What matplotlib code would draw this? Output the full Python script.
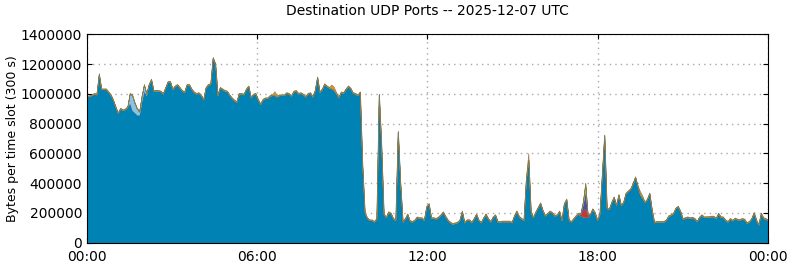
import numpy as np
import matplotlib
matplotlib.use('Agg')
import matplotlib.pyplot as plt

# bytes per 5-minute slot, in thousands, 12 slots per hour
main = [
    980, 985, 990, 1000, 995, 1130, 1030, 1030, 1030, 1010, 990, 955,
    910, 870, 900, 890, 895, 910, 940, 890, 875, 860, 860, 950,
    1020, 990, 1060, 1095, 1020, 1020, 1020, 1015, 1000, 1040, 1080, 1080,
    1030, 1050, 1060, 1040, 1020, 1010, 1060, 1060, 1030, 1010, 1000, 1005,
    990, 960, 1040, 1060, 1065, 1240, 1200, 990, 1040, 1030, 1020, 1015,
    990, 970, 955, 945, 1000, 1000, 995, 1030, 1050, 975, 995, 1000,
    960, 930, 960, 970, 970, 985, 990, 990, 980, 990, 990, 990,
    1005, 1000, 985, 1015, 1020, 1000, 1005, 995, 980, 1000, 1005, 980,
    1020, 1110, 1010, 1030, 1065, 1050, 1040, 1035, 1025, 1000, 975, 1010,
    1005, 1030, 1050, 1035, 1005, 1000, 990, 1010, 520, 200, 165, 150,
    150, 140, 160, 995, 650, 190, 170, 205, 195, 160, 150, 745,
    400, 140, 160, 190, 145, 140, 150, 170, 165, 165, 150, 240,
    260, 165, 165, 160, 170, 185, 205, 175, 150, 135, 125, 130,
    135, 150, 210, 135, 150, 152, 135, 160, 190, 150, 135, 165,
    190, 160, 140, 170, 185, 140, 140, 142, 142, 142, 142, 135,
    180, 210, 175, 160, 150, 420, 555, 200, 170, 205, 235, 265,
    215, 180, 195, 210, 200, 180, 185, 210, 150, 260, 290, 150,
    140, 160, 180, 195, 180, 175, 172, 172, 190, 225, 200, 150,
    190, 450, 720, 230, 225, 270, 305, 250, 320, 250, 270, 330,
    345, 360, 395, 440, 380, 325, 300, 270, 290, 330, 220, 135,
    140, 140, 140, 140, 150, 178, 185, 195, 230, 242, 210, 160,
    165, 170, 165, 168, 160, 142, 170, 185, 170, 172, 172, 175,
    175, 162, 195, 172, 170, 150, 140, 160, 148, 162, 155, 152,
    160, 155, 132, 140, 160, 200, 150, 120, 195, 165, 158, 150,
]

orange = [
    4, 4, 4, 4, 4, 6, 4, 4, 4, 4, 4, 4,
    4, 4, 4, 4, 4, 4, 4, 4, 4, 4, 4, 4,
    4, 4, 4, 4, 4, 4, 4, 4, 4, 4, 4, 4,
    4, 4, 4, 4, 4, 4, 4, 4, 4, 4, 4, 4,
    4, 4, 4, 4, 4, 6, 4, 4, 4, 4, 4, 4,
    4, 4, 4, 4, 4, 4, 4, 4, 4, 4, 4, 4,
    4, 4, 4, 4, 4, 4, 4, 25, 8, 4, 4, 4,
    4, 4, 4, 4, 4, 4, 4, 4, 4, 4, 4, 4,
    4, 4, 4, 4, 4, 4, 4, 25, 20, 8, 4, 4,
    4, 4, 4, 4, 4, 4, 4, 4, 4, 4, 4, 4,
    4, 4, 4, 4, 4, 4, 4, 4, 4, 4, 4, 4,
    4, 4, 4, 4, 4, 4, 4, 4, 4, 4, 4, 4,
    4, 4, 4, 4, 4, 4, 4, 4, 4, 4, 4, 4,
    4, 4, 4, 4, 4, 4, 4, 4, 4, 4, 4, 4,
    4, 4, 4, 4, 4, 4, 4, 4, 4, 4, 4, 4,
    4, 4, 4, 4, 4, 20, 45, 8, 4, 4, 4, 4,
    4, 4, 4, 4, 4, 4, 4, 4, 4, 4, 4, 4,
    4, 4, 4, 4, 4, 4, 4, 4, 4, 4, 4, 4,
    4, 4, 4, 4, 4, 4, 4, 4, 4, 4, 4, 4,
    4, 4, 4, 4, 4, 20, 15, 4, 4, 4, 4, 4,
    4, 4, 4, 4, 4, 4, 4, 4, 4, 4, 4, 4,
    4, 4, 4, 4, 4, 4, 4, 4, 4, 4, 4, 4,
    4, 4, 4, 4, 4, 4, 4, 4, 4, 4, 4, 4,
    4, 4, 4, 4, 4, 4, 4, 4, 4, 4, 4, 4,
]

green = [3] * 288
green_spike_start = 208
green_spike = [4, 18, 57, 4]

# short-lived ports: (first slot, values)
lightblue_start = 18
lightblue = [60, 100, 65, 40, 20, 30, 40, 10]
red_start = 208
red = [12, 42, 58, 12]
darkblue_start = 208
darkblue = [2, 40, 112, 5]

xlabels = ['00:00', '06:00', '12:00', '18:00', '00:00']
xticks = [0, 6, 12, 18, 24]
yticks = [0, 200000, 400000, 600000, 800000, 1000000, 1200000, 1400000]


def sparse(start, vals):
    out = np.zeros(288)
    out[start:start + len(vals)] = vals
    return out


g = np.array(green, dtype=float)
g[green_spike_start:green_spike_start + len(green_spike)] = green_spike

layers = [
    (np.array(main, dtype=float), '#0082b4', '#2a6f8c', 0.7),
    (sparse(lightblue_start, lightblue), '#8cc3e3', '#8cc3e3', 0.2),
    (sparse(red_start, red), '#c8372d', '#c8372d', 0.2),
    (sparse(darkblue_start, darkblue), '#4a50a8', '#4a50a8', 0.2),
    (g, '#8cc63f', '#8cc63f', 0.2),
    (np.array(orange, dtype=float), '#d9962a', '#8a7a50', 0.4),
]

hours = np.linspace(0, 24, 288)

fig = plt.figure(figsize=(7.9, 2.67), dpi=100)
ax = fig.add_axes([0.1101, 0.091, 0.862, 0.7805])

base = np.zeros(288)
for vals, col, edge, lw in layers:
    top = base + vals * 1000
    ax.fill_between(hours, base, top, facecolor=col, edgecolor=edge,
                    linewidth=lw, zorder=2)
    base = top

ax.set_xlim(0, 24)
ax.set_ylim(0, 1400000)
ax.set_xticks(xticks)
ax.set_xticklabels(xlabels)
ax.set_yticks(yticks)
ax.set_yticklabels([str(v) for v in yticks])
ax.tick_params(direction='in', top=True, right=True, labelsize=10)
ax.tick_params(axis='x', pad=5)
ax.grid(True, linestyle=(0, (1, 3)), color='#a8a8a8', linewidth=1.0, zorder=0)
ax.set_axisbelow(True)
ax.set_ylabel('Bytes per time slot (300 s)', fontsize=9, labelpad=1)
ax.set_title('Destination UDP Ports -- 2025-12-07 UTC', fontsize=10, pad=14)

fig.savefig('out.png', dpi=100)
